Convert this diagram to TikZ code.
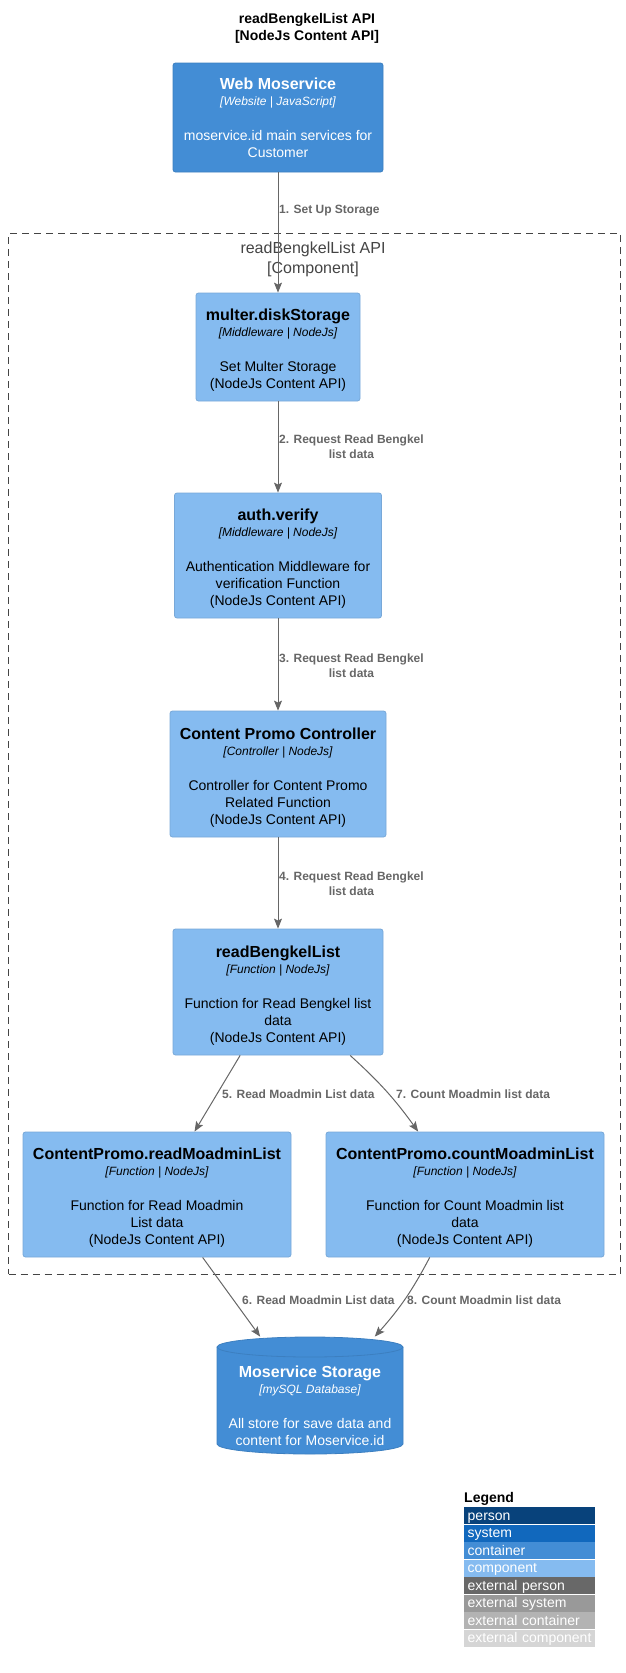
\documentclass[tikz,border=0pt]{standalone}
\usepackage{fontspec}
\setmainfont{Liberation Sans}
\usetikzlibrary{arrows.meta}
\definecolor{compfill}{HTML}{85BBF0}
\definecolor{compborder}{HTML}{78A8D8}
\definecolor{contfill}{HTML}{438DD5}
\definecolor{contborder}{HTML}{3C7FC0}
\definecolor{arrowgray}{HTML}{666666}
\definecolor{bndgray}{HTML}{444444}
\definecolor{lgperson}{HTML}{08427B}
\definecolor{lgsystem}{HTML}{1168BD}
\definecolor{lgcontainer}{HTML}{438DD5}
\definecolor{lgcomponent}{HTML}{85BBF0}
\definecolor{lgextperson}{HTML}{686868}
\definecolor{lgextsystem}{HTML}{999999}
\definecolor{lgextcontainer}{HTML}{B3B3B3}
\definecolor{lgextcomponent}{HTML}{D5D5D5}
\newcommand\ctitle[1]{{\bfseries\fontsize{16}{17}\selectfont #1}}
\newcommand\ktitle[1]{{\rule{0pt}{18pt}\bfseries\fontsize{16}{17}\selectfont #1}}
\newcommand\ctech[1]{{\itshape\fontsize{12}{17}\selectfont #1}}
\begin{document}
\begin{tikzpicture}[x=1pt,y=1pt,
  box/.style={rectangle, rounded corners=2.5pt, line width=0.8pt, inner sep=0pt, align=center, font=\fontsize{14}{17}\selectfont},
  comp/.style={box, fill=compfill, draw=compborder, text=black},
  cont/.style={box, fill=contfill, draw=contborder, text=white},
  arr/.style={draw=arrowgray, line width=1pt, -{Stealth[length=10pt,width=8pt,inset=2pt]}},
  lbl/.style={anchor=west, inner sep=0pt, text=arrowgray, align=center, font=\bfseries\fontsize{12}{15}\selectfont},
  leg/.style={anchor=west, inner xsep=3.5pt, inner ysep=0pt, text width=124pt, text height=11pt, text depth=2pt, minimum height=17pt, align=left, text=white, font=\fontsize{14}{17}\selectfont}
]
\useasboundingbox (0,0) rectangle (625,-1673);

% title
\node[align=center, inner sep=0pt, font=\bfseries\fontsize{14}{17}\selectfont] (title) at (307,-28.5) {readBengkelList API\\{}[NodeJs Content API]};

% boundary
\node[draw=bndgray, line width=1pt, dash pattern=on 7pt off 5pt, minimum width=611.5pt, minimum height=1041pt, inner sep=0pt] (bnd) at (314.25,-753.5) {};
\node[align=center, inner sep=0pt, text=bndgray, font=\fontsize{16}{20}\selectfont] (bndlbl) at (313,-259) {readBengkelList API\\{}[Component]};

% boxes
\node[cont, minimum width=210pt, minimum height=109pt] (web) at (278,-117.5)
  {\ctitle{Web Moservice}\\[-1pt]\ctech{[Website | JavaScript]}\\[18pt]moservice.id main services for\\Customer};
\node[comp, minimum width=164pt, minimum height=108pt] (multer) at (278,-347)
  {\ktitle{multer.diskStorage}\\[-1pt]\ctech{[Middleware | NodeJs]}\\[18pt]Set Multer Storage\\(NodeJs Content API)};
\node[comp, minimum width=207pt, minimum height=125pt] (auth) at (278,-555.5)
  {\ktitle{auth.verify}\\[-1pt]\ctech{[Middleware | NodeJs]}\\[18pt]Authentication Middleware for\\verification Function\\(NodeJs Content API)};
\node[comp, minimum width=216pt, minimum height=126pt] (ctrl) at (278,-774)
  {\ktitle{Content Promo Controller}\\[-1pt]\ctech{[Controller | NodeJs]}\\[18pt]Controller for Content Promo\\Related Function\\(NodeJs Content API)};
\node[comp, minimum width=210pt, minimum height=126pt] (rbl) at (278,-992)
  {\ktitle{readBengkelList}\\[-1pt]\ctech{[Function | NodeJs]}\\[18pt]Function for Read Bengkel list\\data\\(NodeJs Content API)};
\node[comp, minimum width=268pt, minimum height=125pt] (rml) at (157,-1194.5)
  {\ktitle{ContentPromo.readMoadminList}\\[-1pt]\ctech{[Function | NodeJs]}\\[18pt]Function for Read Moadmin\\List data\\(NodeJs Content API)};
\node[comp, minimum width=278pt, minimum height=125pt] (cml) at (465,-1194.5)
  {\ktitle{ContentPromo.countMoadminList}\\[-1pt]\ctech{[Function | NodeJs]}\\[18pt]Function for Count Moadmin list\\data\\(NodeJs Content API)};

% database cylinder
\path[fill=contfill, draw=contborder, line width=0.8pt] (217,-1347) -- (217,-1444)
  arc[start angle=180, end angle=360, x radius=93pt, y radius=10pt] -- (403,-1347)
  arc[start angle=0, end angle=180, x radius=93pt, y radius=10pt] -- cycle;
\draw[contborder, line width=0.8pt] (217,-1347) arc[start angle=180, end angle=360, x radius=93pt, y radius=10pt];
\node[box, text=white, minimum width=186pt, minimum height=137pt] (storage) at (310,-1405.5)
  {\ctitle{Moservice Storage}\\[-1pt]\ctech{[mySQL Database]}\\[18pt]All store for save data and\\content for Moservice.id};

% connectors
\draw[arr] (web) -- (multer);
\draw[arr] (multer) -- (auth);
\draw[arr] (auth) -- (ctrl);
\draw[arr] (ctrl) -- (rbl);
\draw[arr] (rbl) -- (rml);
\draw[arr] (rbl) to[bend left=6] (cml);
\draw[arr] (rml) -- (storage);
\draw[arr] (cml) to[bend left=7] (storage);

% connector labels
\node[lbl] (l1) at (279,-211) {1. Set Up Storage};
\node[lbl] (l2) at (279,-447) {2. Request Read Bengkel\\list data};
\node[lbl] (l3) at (279,-666) {3. Request Read Bengkel\\list data};
\node[lbl] (l4) at (279,-884) {4. Request Read Bengkel\\list data};
\node[lbl] (l5) at (222,-1094) {5. Read Moadmin List data};
\node[lbl] (l7) at (396,-1094) {7. Count Moadmin list data};
\node[lbl] (l6) at (242,-1300) {6. Read Moadmin List data};
\node[lbl] (l8) at (407,-1300) {8. Count Moadmin list data};

% legend
\node[anchor=west, inner sep=0pt, font=\bfseries\fontsize{14}{17}\selectfont] (legtitle) at (464,-1499) {Legend};
\node[leg, fill=lgperson] (lg1) at (464,-1515.5) {person};
\node[leg, fill=lgsystem] (lg2) at (464,-1533) {system};
\node[leg, fill=lgcontainer] (lg3) at (464,-1550.5) {container};
\node[leg, fill=lgcomponent] (lg4) at (464,-1568) {component};
\node[leg, fill=lgextperson] (lg5) at (464,-1585.5) {external person};
\node[leg, fill=lgextsystem] (lg6) at (464,-1603) {external system};
\node[leg, fill=lgextcontainer] (lg7) at (464,-1620.5) {external container};
\node[leg, fill=lgextcomponent] (lg8) at (464,-1638) {external component};
\end{tikzpicture}
\end{document}
